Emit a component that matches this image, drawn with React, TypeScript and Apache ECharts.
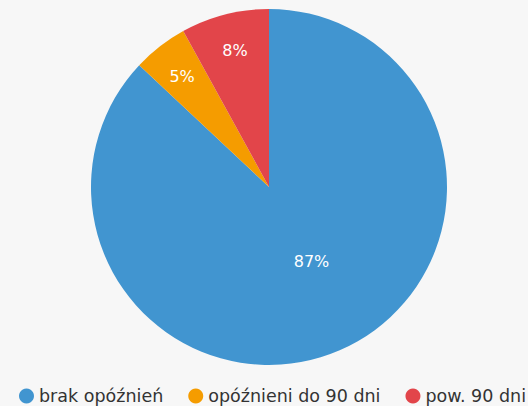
import React, { useEffect, useRef } from "react";
import * as echarts from "echarts";

const categories = ["brak opóźnień", "opóźnieni do 90 dni", "pow. 90 dni"];
const values = [87, 5, 8];
const colors = ["#4195d0", "#f59c00", "#e2454a"];

export default function App() {
  const ref = useRef<HTMLDivElement>(null);
  useEffect(() => {
    document.body.style.margin = "0";
    const chart = echarts.init(ref.current!, null, { renderer: "svg" });
    const font = "DejaVu Sans";
    chart.setOption({
      animation: false,
      backgroundColor: "#f7f7f7",
      color: colors,
      legend: {
        data: categories.map((n, i) => ({ name: n, itemStyle: { color: colors[i] } })),
        left: 19,
        width: 700,
        top: 387,
        icon: "circle",
        itemWidth: 15,
        itemHeight: 15,
        itemGap: 25,
        padding: 0,
        textStyle: { fontFamily: font, fontSize: 17.5, color: "#333" },
      },
      series: [
        {
          type: "pie",
          center: [269, 187],
          radius: [0, 178],
          startAngle: 90,
          silent: true,
          label: {
            position: "inside",
            formatter: "{c}%",
            color: "#fff",
            fontFamily: font,
            fontSize: 16,
            offset: [6, -10],
          },
          labelLine: { show: false },
          data: categories.map((n, i) => ({
            name: n,
            value: values[i],
            label: { show: values[i] > 50 },
          })),
        },
        {
          type: "pie",
          center: [269, 187],
          radius: [106, 178],
          startAngle: 90,
          silent: true,
          itemStyle: { color: "transparent" },
          label: {
            position: "inside",
            formatter: "{c}%",
            color: "#fff",
            fontFamily: font,
            fontSize: 16,
            offset: [2, 4],
          },
          labelLine: { show: false },
          data: categories.map((n, i) => ({
            name: n,
            value: values[i],
            label: { show: values[i] <= 50 },
          })),
        },
      ],
    });
    return () => chart.dispose();
  }, []);
  return <div ref={ref} style={{ width: 528, height: 406 }} />;
}
